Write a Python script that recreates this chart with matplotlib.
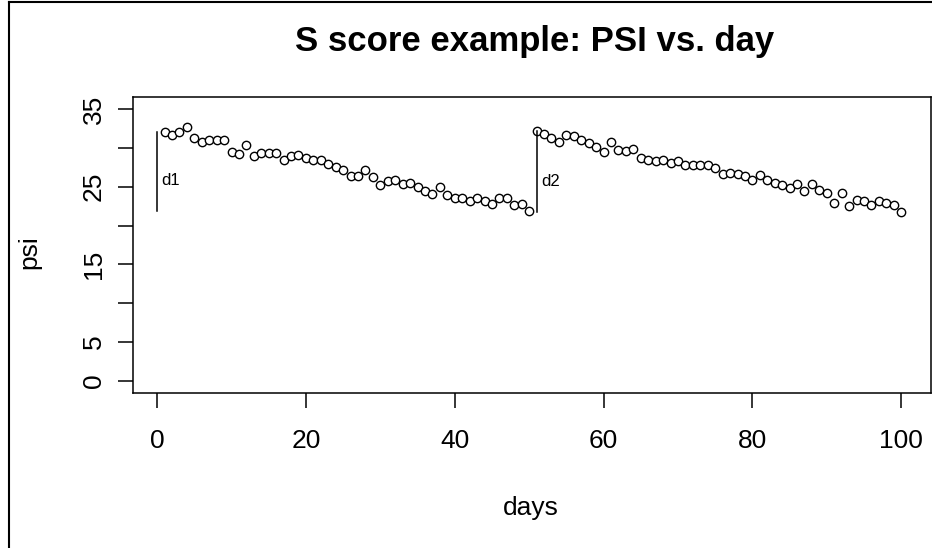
import matplotlib
matplotlib.use("Agg")
import matplotlib.pyplot as plt
from matplotlib import font_manager as fm
from matplotlib.lines import Line2D

# ---- data ----
days_seg1 = list(range(1, 51))
psi_seg1 = [32.0, 31.7, 32.0, 32.7, 31.2, 30.7, 31.0, 31.0, 31.0, 29.5,
            29.2, 30.3, 29.0, 29.3, 29.3, 29.3, 28.4, 29.0, 29.1, 28.7,
            28.4, 28.4, 27.9, 27.5, 27.1, 26.4, 26.4, 27.2, 26.2, 25.2,
            25.7, 25.9, 25.3, 25.5, 24.9, 24.5, 24.0, 24.9, 23.9, 23.5,
            23.6, 23.1, 23.5, 23.1, 22.8, 23.5, 23.6, 22.6, 22.8, 21.9]
days_seg2 = list(range(51, 101))
psi_seg2 = [32.1, 31.8, 31.2, 30.7, 31.7, 31.5, 31.0, 30.6, 30.1, 29.4,
            30.8, 29.7, 29.6, 29.9, 28.7, 28.4, 28.3, 28.4, 28.1, 28.3,
            27.8, 27.8, 27.8, 27.8, 27.4, 26.6, 26.7, 26.6, 26.4, 25.8,
            26.5, 25.8, 25.5, 25.2, 24.8, 25.3, 24.5, 25.4, 24.6, 24.2,
            22.9, 24.2, 22.5, 23.3, 23.1, 22.6, 23.1, 22.9, 22.7, 21.7]
drop_x = [0, 51]
drop_labels = ["d1", "d2"]
x_ticks = [0, 20, 40, 60, 80, 100]
y_ticks = [0, 5, 10, 15, 20, 25, 30, 35]
y_tick_labels = ["0", "5", "", "15", "", "25", "", "35"]
title = "S score example: PSI vs. day"
x_label = "days"
y_label = "psi"

# ---- fonts ----
def first_available(names, default="DejaVu Sans"):
    for n in names:
        try:
            fm.findfont(fm.FontProperties(family=n), fallback_to_default=False)
            return n
        except Exception:
            pass
    return default

main_font = first_available(["Liberation Sans", "Arial"])
narrow_font = first_available(["Liberation Sans Narrow", "DejaVu Sans Condensed"], main_font)
plt.rcParams["font.family"] = [main_font, "DejaVu Sans"]

W, H = 932, 548
fig = plt.figure(figsize=(W / 100, H / 100), dpi=100)
fig.patch.set_facecolor("white")

left_px, right_px, top_px, bottom_px = 133.3, 931.0, 97.3, 392.6
ax = fig.add_axes([left_px / W, 1 - bottom_px / H,
                   (right_px - left_px) / W, (bottom_px - top_px) / H])
ax.set_xlim(-3.2, 104.0)
ax.set_ylim(-1.5, 36.5)

days_all = days_seg1 + days_seg2
psi_all = psi_seg1 + psi_seg2
ax.plot(days_all, psi_all, linestyle="none", marker="o", markersize=6.0,
        markerfacecolor="white", markeredgecolor="black", markeredgewidth=1.0)

# drop lines
segs = [psi_seg1, psi_seg2]
for xd, seg, lab in zip(drop_x, segs, drop_labels):
    ax.plot([xd, xd], [seg[-1], seg[0]], color="black", linewidth=1.1)
    ax.text(xd + 0.6, (seg[-1] + seg[0]) / 2 - 1.2, lab, ha="left", va="center",
            fontsize=12, family=[narrow_font, "DejaVu Sans"], color="black")

for s in ax.spines.values():
    s.set_linewidth(1.1)
    s.set_color("black")

ax.set_xticks(x_ticks)
ax.set_xticklabels([str(t) for t in x_ticks])
ax.set_yticks(y_ticks)
ax.set_yticklabels(y_tick_labels, rotation=90, va="center")
ax.tick_params(axis="x", length=11, width=1.1, pad=15, labelsize=19, colors="black")
ax.tick_params(axis="y", length=11, width=1.1, pad=9, labelsize=19, colors="black")

fig.text(535 / W, 1 - 42 / H, title, ha="center", va="center",
         fontsize=25, fontweight="bold")
fig.text(531 / W, 1 - 508 / H, x_label, ha="center", va="center", fontsize=19)
fig.text(29 / W, 1 - 252 / H, y_label, ha="center", va="center", fontsize=19,
         rotation=90)

# outer border of the picture
fig.add_artist(Line2D([8.5 / W, 8.5 / W], [0, 1 - 1.5 / H], transform=fig.transFigure,
                      color="black", linewidth=1.5))
fig.add_artist(Line2D([8.5 / W, 1], [1 - 1.5 / H, 1 - 1.5 / H], transform=fig.transFigure,
                      color="black", linewidth=1.5))

fig.savefig("out.png", dpi=100)
